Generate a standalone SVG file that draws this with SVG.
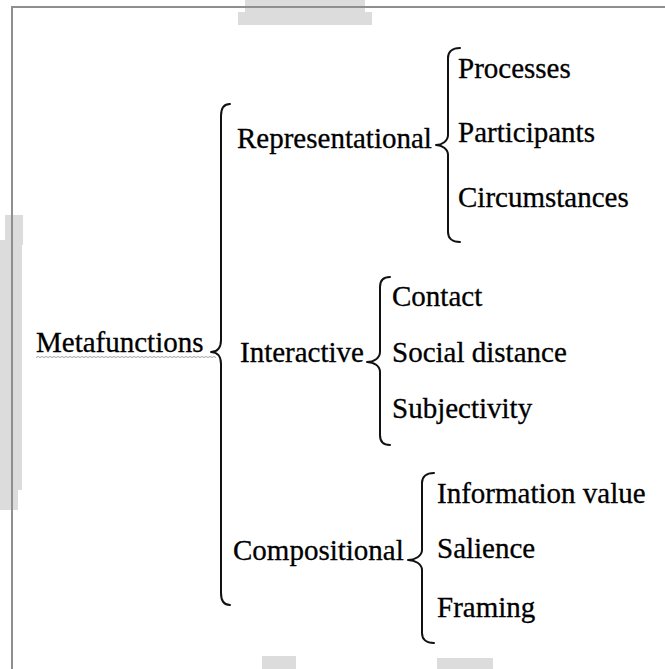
<svg xmlns="http://www.w3.org/2000/svg" width="665" height="669" viewBox="0 0 665 669">
<style>
text{font-family:"Liberation Serif","Times New Roman",serif;font-size:29px;fill:#000;stroke:#000;stroke-width:0.3;}
.brace{fill:none;stroke:#111;stroke-width:2;stroke-linecap:round;stroke-linejoin:round;}
.wm{fill:#dcdcdc;}
</style>
<rect x="0" y="0" width="665" height="669" fill="#fff"/>
<g id="watermarks">
<rect class="wm" x="245" y="0" width="120" height="12"/>
<rect class="wm" x="238" y="12" width="134" height="13"/>
<rect class="wm" x="0" y="240" width="22" height="250"/>
<rect class="wm" x="5" y="215" width="18" height="30"/>
<rect class="wm" x="0" y="488" width="18" height="22"/>
<rect class="wm" x="262" y="656" width="34" height="13"/>
<rect class="wm" x="437" y="658" width="56" height="11"/>
</g>
<g id="frame">
<path d="M12,669 V7 H665" fill="none" stroke="#8f8f8f" stroke-width="2"/>
</g>
<g id="connectors">
<path class="brace" d="M230,104 C223,104 221,109 221,116 V340 C221,348 217,352 211,352 C217,352 221,356 221,364 V593 C221,600 223,605 230,605"/>
<path class="brace" d="M460,48 C452,48 448,52 448,58 V135 C448,141 442,145 436,145 C442,145 448,149 448,155 V232 C448,238 452,242 460,242"/>
<path class="brace" d="M390,277 C383,277 380,281 380,287 V352 C380,358 374,362 367,362 C374,362 380,366 380,372 V435 C380,441 383,445 390,445"/>
<path class="brace" d="M434,473 C426,473 422,477 422,483 V550 C422,556 415,560 408,560 C415,560 422,564 422,570 V633 C422,639 426,643 434,643"/>
</g>
<g id="metafunctions">
<text x="36" y="352">Metafunctions</text>
<path d="M36,357.5 l2,-1 l2,1 l2,-1 l2,1 l2,-1 l2,1 l2,-1 l2,1 l2,-1 l2,1 l2,-1 l2,1 l2,-1 l2,1 l2,-1 l2,1 l2,-1 l2,1 l2,-1 l2,1 l2,-1 l2,1 l2,-1 l2,1 l2,-1 l2,1 l2,-1 l2,1 l2,-1 l2,1 l2,-1 l2,1 l2,-1 l2,1 l2,-1 l2,1 l2,-1 l2,1 l2,-1 l2,1 l2,-1 l2,1 l2,-1 l2,1 l2,-1 l2,1 l2,-1 l2,1 l2,-1 l2,1 l2,-1 l2,1 l2,-1 l2,1 l2,-1 l2,1 l2,-1 l2,1 l2,-1 l2,1 l2,-1 l2,1 l2,-1 l2,1 l2,-1 l2,1 l2,-1 l2,1 l2,-1 l2,1 l2,-1 l2,1 l2,-1 l2,1 l2,-1 l2,1 l2,-1 l2,1 l2,-1 l2,1 l2,-1 l2,1 l2,-1 l2,1 l2,-1 l2,1 l2,-1 l2,1 l2,-1 l2,1" fill="none" stroke="#999" stroke-width="0.9"/>
</g>
<g id="representational"><text x="237" y="148">Representational</text></g>
<g id="processes"><text x="458" y="78">Processes</text></g>
<g id="participants"><text x="458" y="142">Participants</text></g>
<g id="circumstances"><text x="458" y="207">Circumstances</text></g>
<g id="interactive"><text x="240" y="362">Interactive</text></g>
<g id="contact"><text x="392" y="306">Contact</text></g>
<g id="social-distance"><text x="392" y="362">Social distance</text></g>
<g id="subjectivity"><text x="392" y="418">Subjectivity</text></g>
<g id="compositional"><text x="233" y="560">Compositional</text></g>
<g id="information-value"><text x="437" y="503">Information value</text></g>
<g id="salience"><text x="437" y="558">Salience</text></g>
<g id="framing"><text x="437" y="617">Framing</text></g>
</svg>
